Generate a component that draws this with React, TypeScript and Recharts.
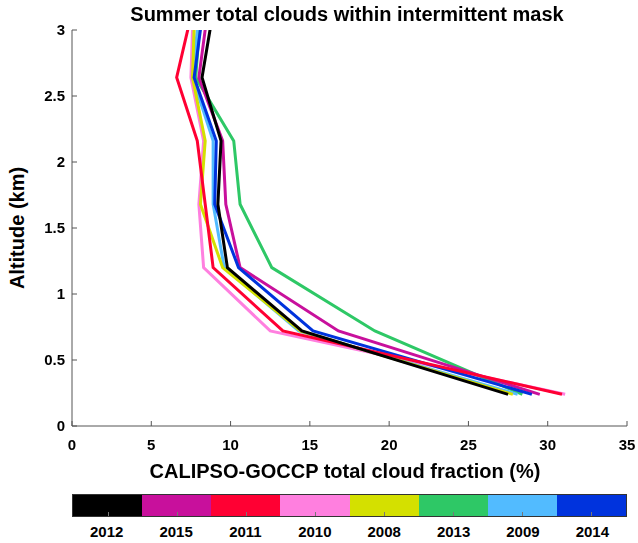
import React from "react";
import { LineChart, Line, XAxis, YAxis } from "recharts";

const altitudes = [0.24, 0.72, 1.2, 1.68, 2.16, 2.64, 3.12];

const years = ["2012", "2015", "2011", "2010", "2008", "2013", "2009", "2014"];
const colors = ["#000000", "#c8109c", "#ff0033", "#ff7fdf", "#d4e000", "#2ec866", "#52bbff", "#0033dd"];

const y2012 = [27.5, 14.5, 9.8, 9.2, 9.4, 8.2, 8.87];
const y2015 = [29.5, 16.8, 10.6, 9.7, 9.5, 8.0, 8.53];
const y2011 = [30.9, 13.3, 8.9, 8.4, 7.9, 6.6, 7.53];
const y2010 = [31.1, 12.5, 8.3, 8.0, 8.3, 7.5, 7.63];
const y2008 = [27.8, 14.4, 9.5, 8.1, 8.4, 7.6, 7.73];
const y2013 = [28.4, 19.1, 12.6, 10.6, 10.2, 7.8, 8.1];
const y2009 = [28.1, 14.3, 9.6, 8.9, 8.9, 7.6, 8.0];
const y2014 = [29.0, 15.2, 10.5, 9.0, 9.1, 7.7, 8.23];

const xTicks = [0, 5, 10, 15, 20, 25, 30, 35];
const yTicks = [0, 0.5, 1, 1.5, 2, 2.5, 3];

const seriesByYear: Record<string, number[]> = {
  "2012": y2012, "2015": y2015, "2011": y2011, "2010": y2010,
  "2008": y2008, "2013": y2013, "2009": y2009, "2014": y2014,
};

const data = altitudes.map((alt, i) => {
  const row: Record<string, number> = { alt };
  years.forEach((yr) => (row["y" + yr] = seriesByYear[yr][i]));
  return row;
});

// draw order, last one on top
const drawOrder = ["2010", "2013", "2015", "2009", "2008", "2014", "2011", "2012"];

const FONT = "'Liberation Sans', Arial, Helvetica, sans-serif";
const AXIS = "#555";

const XTick = (props: any) => {
  const { x, y, payload } = props;
  return (
    <g>
      <line x1={x} y1={y} x2={x} y2={y - 5} stroke={AXIS} strokeWidth={1} />
      <text x={x} y={y + 24} textAnchor="middle" fontSize={15} fontWeight="bold" fontFamily={FONT} fill="#000">
        {payload.value}
      </text>
    </g>
  );
};

const YTick = (props: any) => {
  const { x, y, payload } = props;
  return (
    <g>
      <line x1={x} y1={y} x2={x + 5} y2={y} stroke={AXIS} strokeWidth={1} />
      <text x={x - 7} y={y + 5} textAnchor="end" fontSize={15} fontWeight="bold" fontFamily={FONT} fill="#000">
        {payload.value}
      </text>
    </g>
  );
};

export default function App() {
  return (
    <div style={{ position: "fixed", left: 0, top: 0, width: 638, height: 543, fontFamily: FONT, background: "#fff", overflow: "visible" }}>
      <div style={{ position: "absolute", left: 0, width: 694, top: 3, textAlign: "center", fontSize: 20, fontWeight: "bold", whiteSpace: "nowrap" }}>
        Summer total clouds within intermittent mask
      </div>

      <div
        style={{
          position: "absolute", left: 17, top: 228, fontSize: 20, fontWeight: "bold", whiteSpace: "nowrap",
          transform: "translate(-50%, -50%) rotate(-90deg)",
        }}
      >
        Altitude (km)
      </div>

      <div style={{ position: "absolute", left: 0, width: 690, top: 460, textAlign: "center", fontSize: 20, fontWeight: "bold", whiteSpace: "nowrap" }}>
        CALIPSO-GOCCP total cloud fraction (%)
      </div>

      <div style={{ position: "absolute", left: 0, top: 0 }}>
        <LineChart layout="vertical" width={638} height={460} data={data} margin={{ top: 30, right: 11, bottom: 4, left: 32 }}>
          <XAxis
            type="number"
            domain={[0, 35]}
            ticks={xTicks}
            allowDataOverflow
            height={30}
            tickSize={0}
            tickMargin={0}
            tickLine={false}
            tick={<XTick />}
            stroke={AXIS}
            interval={0}
          />
          <YAxis
            type="number"
            dataKey="alt"
            domain={[0, 3]}
            ticks={yTicks}
            reversed
            allowDataOverflow
            width={40}
            tickSize={0}
            tickMargin={0}
            tickLine={false}
            tick={<YTick />}
            stroke={AXIS}
            interval={0}
          />
          {drawOrder.map((yr) => (
            <Line
              key={yr}
              dataKey={"y" + yr}
              stroke={colors[years.indexOf(yr)]}
              strokeWidth={3}
              dot={false}
              activeDot={false}
              isAnimationActive={false}
            />
          ))}
        </LineChart>
      </div>

      <div
        style={{
          position: "absolute", left: 72, top: 494, width: 555, height: 23, display: "flex",
          boxSizing: "border-box", border: "1.5px solid #333",
        }}
      >
        {years.map((yr, i) => (
          <div key={yr} style={{ flex: 1, background: colors[i], position: "relative" }}>
            <div style={{ position: "absolute", left: "50%", bottom: 0, width: 1, height: 4, background: "#777" }} />
          </div>
        ))}
      </div>
      <div style={{ position: "absolute", left: 72, top: 523, width: 555, display: "flex" }}>
        {years.map((yr) => (
          <div key={yr} style={{ flex: 1, textAlign: "center", fontSize: 15, fontWeight: "bold" }}>
            {yr}
          </div>
        ))}
      </div>
    </div>
  );
}
